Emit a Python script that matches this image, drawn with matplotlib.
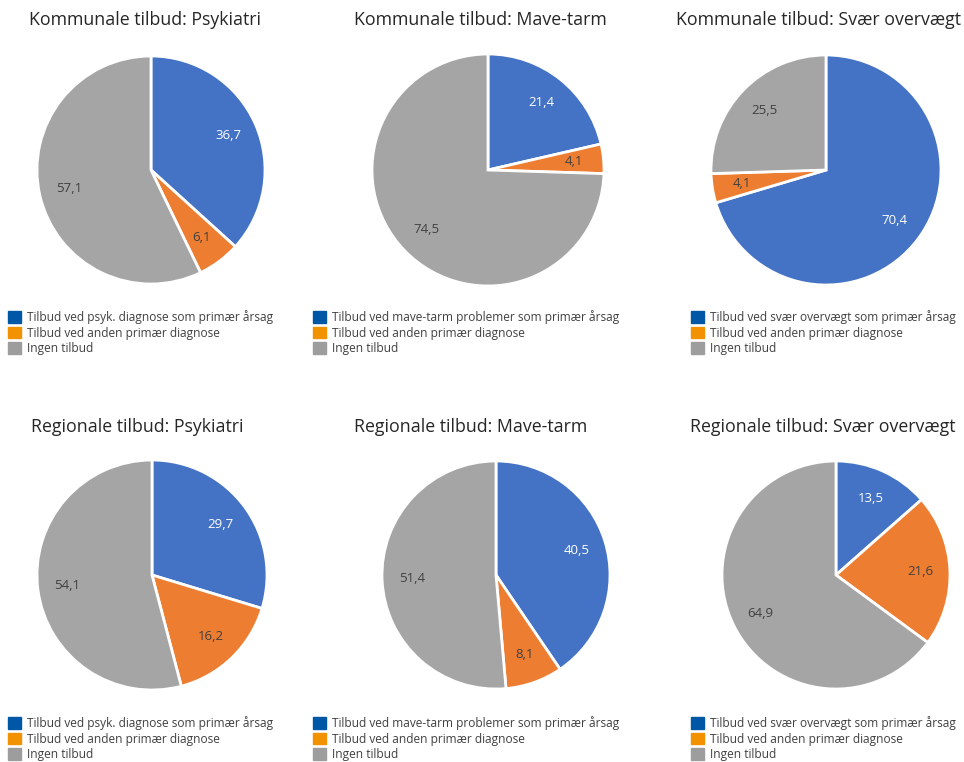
import matplotlib
matplotlib.use("Agg")
import matplotlib.pyplot as plt
from matplotlib.patches import Patch

plt.rcParams['font.family'] = ['Open Sans', 'DejaVu Sans']

W, H = 964, 762

titles = [
    "Kommunale tilbud: Psykiatri", "Kommunale tilbud: Mave-tarm", "Kommunale tilbud: Svær overvægt",
    "Regionale tilbud: Psykiatri", "Regionale tilbud: Mave-tarm", "Regionale tilbud: Svær overvægt",
]
primary_share = [36.7, 21.4, 70.4, 29.7, 40.5, 13.5]
other_share = [6.1, 4.1, 4.1, 16.2, 8.1, 21.6]
none_share = [57.1, 74.5, 25.5, 54.1, 51.4, 64.9]
legend_primary = [
    "Tilbud ved psyk. diagnose som primær årsag",
    "Tilbud ved mave-tarm problemer som primær årsag",
    "Tilbud ved svær overvægt som primær årsag",
]
legend_other = "Tilbud ved anden primær diagnose"
legend_none = "Ingen tilbud"

pie_colors = ['#4472C4', '#ED7D31', '#A5A5A5']
legend_colors = ['#0057A5', '#F39200', '#9D9D9D']
label_colors = ['white', '#404040', '#404040']

# layout (pixels)
centers = [(151, 170), (488, 170), (826, 170), (152, 575), (496, 575), (836, 575)]
radii = [114, 116, 115, 115, 114, 114]
title_pos = [(145, 20), (480, 20), (818, 20), (137, 427), (471, 427), (823, 427)]
legend_x = [8, 313, 691]
legend_y = [310, 716]

fig = plt.figure(figsize=(W / 100, H / 100), dpi=100)

for i in range(6):
    cx, cy = centers[i]
    r = radii[i]
    ax = fig.add_axes([(cx - r) / W, 1 - (cy + r) / H, 2 * r / W, 2 * r / H])
    vals = [primary_share[i], other_share[i], none_share[i]]
    wedges, texts = ax.pie(vals, colors=pie_colors, startangle=90, counterclock=False,
                           labels=[f"{v:.1f}".replace('.', ',') for v in vals],
                           labeldistance=0.74,
                           wedgeprops=dict(edgecolor='white', linewidth=2),
                           textprops=dict(fontsize=9.5))
    for t, c in zip(texts, label_colors):
        t.set_color(c)
        t.set_ha('center')
        t.set_va('center')
    ax.set_xlim(-1, 1)
    ax.set_ylim(-1, 1)
    ax.set_aspect('equal')
    ax.axis('off')
    tx, ty = title_pos[i]
    fig.text(tx / W, 1 - ty / H, titles[i], ha='center', va='center', fontsize=12.8, color='#262626')

for row in range(2):
    for col in range(3):
        handles = [Patch(color=legend_colors[0], label=legend_primary[col]),
                   Patch(color=legend_colors[1], label=legend_other),
                   Patch(color=legend_colors[2], label=legend_none)]
        fig.legend(handles=handles, loc='upper left',
                   bbox_to_anchor=(legend_x[col] / W, 1 - legend_y[row] / H),
                   frameon=False, fontsize=8.6, handlelength=1.1, handleheight=1.1,
                   handletextpad=0.5, labelspacing=0.22, borderpad=0, borderaxespad=0,
                   labelcolor='#404040')

fig.savefig("out.png", dpi=100)
